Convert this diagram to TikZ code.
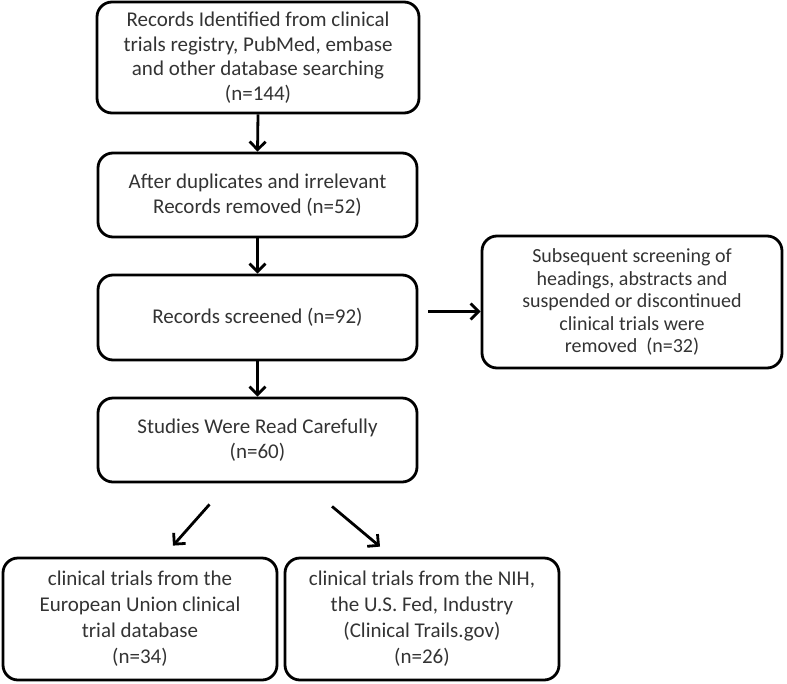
\documentclass[tikz,border=0pt]{standalone}
\usepackage{fontspec}
\setmainfont{Carlito}
\usetikzlibrary{arrows.meta}

\definecolor{txtgray}{HTML}{333333}
\tikzset{
  box/.style={draw=black, line width=2.8pt, rounded corners=15pt, align=center,
    text=txtgray, font=\fontsize{21}{24.5}\selectfont, inner sep=0pt},
  arr/.style={line width=2.8pt, -{Straight Barb[length=8pt,width=16pt]}}
}

\begin{document}
\begin{tikzpicture}[x=1pt, y=-1pt]
    \useasboundingbox (0,0) rectangle (787,683);
    % main column
    \node[box, minimum width=322pt, minimum height=111pt] (rec) at (258,57.5)
        {Records Identified from clinical\\trials registry, PubMed, embase\\and other database searching\\(n=144)};
    \node[box, minimum width=319pt, minimum height=84pt] (dup) at (257.5,195)
        {After duplicates and irrelevant\\Records removed (n=52)};
    \node[box, minimum width=319pt, minimum height=85pt] (scr) at (257.5,317.5)
        {Records screened (n=92)};
    \node[box, minimum width=319pt, minimum height=84pt] (read) at (257.5,440)
        {Studies Were Read Carefully\\(n=60)};
    % side and bottom boxes
    \node[box, minimum width=300pt, minimum height=132pt, font=\fontsize{20}{22.5}\selectfont] (excl) at (632,302)
        {Subsequent screening of\\headings, abstracts and\\suspended or discontinued\\clinical trials were\\removed~~(n=32)};
    \node[box, minimum width=274pt, minimum height=122pt, font=\fontsize{21}{26}\selectfont] (eu) at (140,619)
        {clinical trials from the\\European Union clinical\\trial database\\(n=34)};
    \node[box, minimum width=274pt, minimum height=122pt, font=\fontsize{21}{26}\selectfont] (nih) at (422,619)
        {clinical trials from the NIH,\\the U.S. Fed, Industry\\(Clinical Trails.gov)\\(n=26)};

    \draw[arr] (rec.south) -- (dup.north);
    \draw[arr] (dup.south) -- (scr.north);
    \draw[arr] (scr.south) -- (read.north);
    \draw[arr] ([shift={(10pt,6pt)}]scr.east) coordinate (sa) -- (sa -| excl.west);
    \draw[arr] ([shift={(-48pt,-21pt)}]read.south) -- ([shift={(33pt,11pt)}]eu.north);
    \draw[arr] ([shift={(74.5pt,-23pt)}]read.south) -- ([shift={(-42pt,10pt)}]nih.north);
\end{tikzpicture}
\end{document}
